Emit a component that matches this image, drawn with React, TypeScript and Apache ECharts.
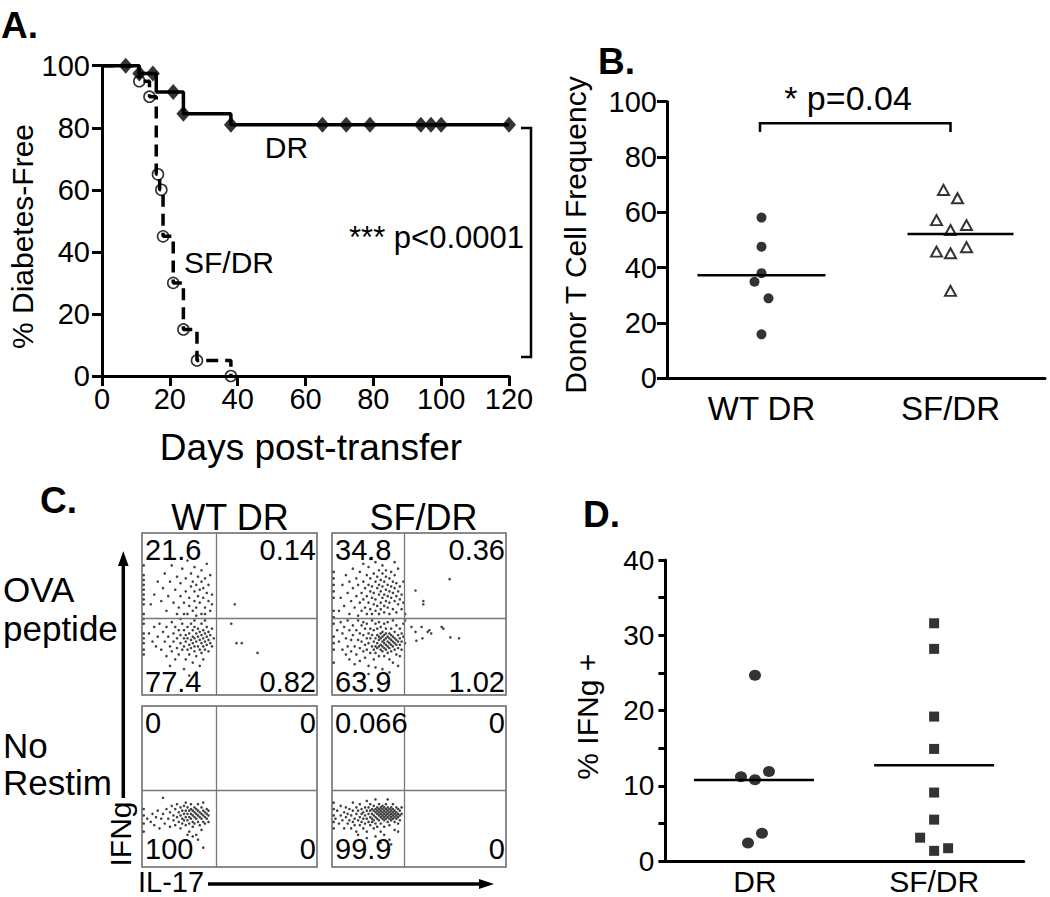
import React, { useEffect, useRef } from 'react';
import * as echarts from 'echarts';

const FONT = '"Liberation Sans", Arial, Helvetica, sans-serif';

// ---------- Panel A: Kaplan-Meier ----------
const drSteps = [[0, 100], [11, 97.5], [16, 91.5], [24, 84.5], [38, 81], [120, 81]];
const drMarks = [[7, 100], [11, 97.5], [15, 97.5], [21, 91.5], [24, 84.5], [38, 81], [65, 81], [72, 81], [79, 81], [94, 81], [97, 81], [100, 81], [120, 81]];
const sfSteps = [[0, 100], [11, 95], [14, 90], [16, 65], [17, 60], [18, 45], [21, 30], [24, 15], [28, 5], [38, 0]];
const sfMarks = [[11, 95], [14, 90], [16.5, 65], [17.5, 60], [18, 45], [21, 30], [24, 15], [28, 5], [38, 0]];

// ---------- Panel B ----------
const bCats = ['WT DR', 'SF/DR'];
const bWT = [58.1, 47.6, 38.0, 34.9, 28.9, 15.9];
const bSF = [68.1, 65.1, 57.2, 53.6, 55.4, 45.8, 45.2, 47.4, 31.6];
const bWTJitterPx = [0, 0, 0, -7, 7, 0];
const bSFJitterPx = [-7, 7, -14, 0, 16, -14, 0, 16, 0];

// ---------- Panel D ----------
const dCats = ['DR', 'SF/DR'];
const dDR = [24.7, 11.2, 10.8, 11.9, 3.7, 2.4];
const dSF = [31.6, 28.2, 19.2, 14.9, 9.1, 5.5, 3.1, 1.35, 1.7];
const dDRJitterPx = [0, -14, 0, 14, 7, -7];
const dSFJitterPx = [0, 0, 0, 0, 0, 0, -14, 0, 14];

// ---------- Panel C: flow plots (x = IL-17, y = IFNg, 0-100 within box) ----------
const quadWtOva = ['21.6', '0.14', '77.4', '0.82'];
const quadSfOva = ['34.8', '0.36', '63.9', '1.02'];
const quadWtNo = ['0', '0', '100', '0'];
const quadSfNo = ['0.066', '0', '99.9', '0'];
const gates = [[42.5, 47.5], [41.7, 47.5], [42.6, 47.8], [41.7, 47.8]];

const flowWtOva = [
  [5,56],[7,62],[9,70],[11,58],[12,66],[13,75],[14,52],[15,61],[16,70],[17,80],[18,57],[19,65],[20,73],[21,54],[22,61],[22,69],[23,78],[24,50],[24,57],[25,64],[25,72],[26,83],[27,55],[27,60],[28,67],[28,75],[29,52],[29,70],[30,58],[30,64],[30,79],[31,54],[31,68],[32,61],[32,73],[32,86],[33,57],[33,65],[34,50],[34,70],[34,77],[35,60],[35,66],[36,54],[36,72],[37,63],[37,81],[38,58],[38,68],[39,52],[39,74],[40,62],[36,50],[26,50],[20,50],[31,49],[40,56],
  [1,25],[1,32],[1,38],[1,44],[1,50],[1,56],[1,62],[1,68],[1,74],[1,80],[1,28],[1,35],[1,47],[1,59],[1,65],[1,71],
  [4,38],[6,33],[7,42],[8,30],[9,36],[10,44],[11,28],[12,39],[13,33],[14,24],[14,42],[15,36],[16,30],[17,45],[17,27],[18,38],[18,33],[19,22],[19,42],[20,35],[20,29],[21,40],[21,25],[22,37],[22,32],[23,44],[23,28],[24,35],[24,30],[24,40],[25,22],[25,33],[25,37],[26,28],[26,42],[26,35],[27,31],[27,38],[27,25],[28,34],[28,44],[28,29],[29,36],[29,32],[29,40],[29,20],[30,30],[30,35],[30,27],[30,42],[31,33],[31,38],[31,24],[32,30],[32,36],[32,41],[33,34],[33,28],[33,39],[33,18],[34,32],[34,37],[34,26],[34,44],[35,35],[35,30],[35,40],[35,22],[36,33],[36,38],[36,28],[37,36],[37,31],[37,42],[38,34],[38,27],[38,39],[39,32],[39,37],[40,30],[40,41],[41,35],[36,46],[30,46],[22,47],[16,18],[24,16],[31,14],[27,12],
  [53,56],[51,44],[54,32],[57,32],[66,26]
];

const flowSfOva = [
  [4,52],[5,60],[6,68],[7,55],[8,74],[9,63],[10,50],[10,70],[11,58],[12,66],[12,78],[13,54],[14,61],[14,72],[15,49],[15,68],[16,57],[16,76],[17,63],[17,52],[18,70],[18,59],[18,81],[19,66],[19,54],[20,61],[20,74],[20,50],[21,68],[21,57],[21,79],[22,64],[22,53],[22,72],[23,60],[23,67],[23,50],[24,75],[24,56],[24,63],[25,70],[25,52],[25,82],[25,59],[26,66],[26,73],[26,55],[27,62],[27,77],[27,50],[27,68],[28,57],[28,64],[28,71],[28,53],[29,60],[29,75],[29,67],[29,80],[30,55],[30,62],[30,70],[30,51],[31,65],[31,73],[31,58],[31,77],[32,54],[32,61],[32,68],[33,72],[33,57],[33,64],[33,50],[34,60],[34,67],[34,76],[35,53],[35,63],[35,70],[36,58],[36,66],[36,74],[37,51],[37,61],[37,69],[38,56],[38,64],[38,78],[39,59],[39,67],[40,53],[40,62],[41,57],[41,70],[36,82],[31,84],[22,84],[42,50],
  [1,20],[1,28],[1,36],[1,44],[1,52],[1,60],[1,68],[1,76],[1,32],[1,48],[1,64],[1,72],
  [3,40],[4,33],[5,45],[6,28],[6,38],[7,42],[8,25],[8,35],[9,30],[9,46],[10,40],[10,22],[11,34],[11,27],[12,43],[12,37],[13,30],[13,19],[14,40],[14,25],[15,34],[15,46],[16,29],[16,38],[16,21],[17,43],[17,33],[18,27],[18,37],[18,45],[19,31],[19,23],[19,41],[20,35],[20,28],[20,44],[21,32],[21,38],[21,18],[22,26],[22,41],[22,35],[23,30],[23,46],[23,37],[24,28],[24,33],[24,40],[24,22],[25,35],[25,30],[25,44],[25,26],[26,32],[26,37],[26,29],[26,41],[27,34],[27,30],[27,36],[27,24],[27,45],[28,31],[28,35],[28,28],[28,38],[28,42],[29,33],[29,30],[29,36],[29,27],[29,39],[30,32],[30,34],[30,29],[30,37],[30,24],[30,44],[31,31],[31,35],[31,28],[31,38],[31,41],[32,33],[32,30],[32,36],[32,26],[32,45],[33,32],[33,35],[33,29],[33,38],[33,22],[34,31],[34,34],[34,37],[34,41],[34,27],[35,33],[35,30],[35,36],[35,46],[35,20],[36,32],[36,35],[36,28],[36,39],[37,34],[37,31],[37,43],[37,25],[38,33],[38,37],[38,29],[39,35],[39,31],[39,41],[39,24],[40,33],[40,38],[40,28],[41,36],[41,44],[42,32],[29,16],[33,14],[25,17],[38,18],[21,13],[42,46],
  [67.6,71.5],[48,64.5],[52.5,58],[52.5,56],[45.7,42],[51.5,42],[55,39],[57,38],[56,40],[63,42],[64,41],[48,39],[52,35],[48.5,33.5],[68,35.6],[73,35]
];

const flowWtNo = [
  [3,30],[5,28],[6,33],[7,26],[8,31],[9,35],[10,24],[11,30],[12,43],[12,33],[13,27],[14,36],[15,30],[16,25],[16,34],[17,38],[18,29],[18,32],[19,26],[19,36],[20,31],[20,39],[21,28],[21,34],[22,32],[22,24],[22,37],[23,30],[23,35],[23,27],[24,33],[24,38],[24,29],[25,31],[25,35],[25,26],[25,40],[26,33],[26,29],[26,37],[27,31],[27,35],[27,27],[27,22],[28,33],[28,30],[28,36],[28,39],[29,32],[29,28],[29,35],[29,25],[30,31],[30,34],[30,37],[30,27],[31,33],[31,30],[31,36],[31,20],[32,32],[32,35],[32,28],[32,39],[33,31],[33,34],[33,26],[34,33],[34,30],[34,37],[34,23],[35,32],[35,35],[35,28],[35,40],[36,31],[36,34],[36,27],[37,33],[37,30],[37,36],[38,32],[38,28],[38,35],[32,17],[35,12],[29,19],[26,20],
  [1,22],[1,27],[1,32],[1,36]
];

const flowSfNo = [
  [2,30],[3,35],[4,27],[5,32],[5,38],[6,29],[7,34],[7,24],[8,31],[8,37],[9,27],[9,33],[10,29],[10,36],[11,24],[11,32],[12,28],[12,35],[12,40],[13,30],[13,26],[14,33],[14,37],[14,22],[15,29],[15,35],[16,31],[16,26],[16,39],[17,33],[17,28],[17,36],[18,30],[18,24],[18,34],[19,32],[19,37],[19,27],[20,30],[20,35],[20,41],[20,22],[21,33],[21,28],[21,37],[22,31],[22,35],[22,26],[22,39],[23,33],[23,30],[23,36],[23,28],[24,32],[24,35],[24,29],[24,38],[24,24],[25,31],[25,34],[25,36],[25,27],[25,42],[26,33],[26,30],[26,35],[26,37],[26,25],[27,32],[27,34],[27,29],[27,36],[27,39],[28,31],[28,33],[28,35],[28,37],[28,27],[28,22],[29,32],[29,34],[29,30],[29,36],[29,38],[30,31],[30,33],[30,35],[30,29],[30,37],[30,25],[31,32],[31,34],[31,36],[31,30],[31,39],[32,31],[32,33],[32,35],[32,28],[32,37],[32,42],[33,32],[33,34],[33,30],[33,36],[33,26],[34,31],[34,33],[34,35],[34,37],[34,29],[35,32],[35,34],[35,30],[35,36],[35,39],[36,31],[36,33],[36,35],[36,28],[37,32],[37,34],[37,30],[37,37],[38,33],[38,31],[38,36],[38,27],[39,32],[39,35],[39,29],[40,33],[40,37],[36,23],[30,20],[25,19],[33,17],[28,15],[20,18],[38,22],[15,20],[34,14],
  [1,24],[1,28],[1,32],[1,36],[1,40]
];

const mean = (a: number[]) => a.reduce((s, v) => s + v, 0) / a.length;

export default function App() {
  const ref = useRef<HTMLDivElement>(null);
  useEffect(() => {
    if (!ref.current) return;
    const chart = echarts.init(ref.current, undefined, { renderer: 'svg' });

    const axisLineStyle = { color: '#000', width: 3 };
    const flowBoxes = [
      { left: 142, top: 533, width: 175, height: 162 },
      { left: 332, top: 533, width: 174, height: 162 },
      { left: 142, top: 706, width: 175, height: 161 },
      { left: 332, top: 706, width: 174, height: 161 },
    ];
    const flowData = [flowWtOva, flowSfOva, flowWtNo, flowSfNo];
    const quads = [quadWtOva, quadSfOva, quadWtNo, quadSfNo];

    const grids: any[] = [
      { left: 102, top: 65.7, width: 407, height: 310.3 },
      { left: 667, top: 101.7, width: 378, height: 276.6 },
      { left: 665.4, top: 560.1, width: 358.3, height: 300.9 },
      ...flowBoxes.map((b) => ({ ...b, show: true, borderColor: '#666', borderWidth: 1.5, backgroundColor: 'transparent' })),
    ];

    const xAxes: any[] = [
      {
        gridIndex: 0, type: 'value', min: 0, max: 120, interval: 20,
        axisLine: { onZero: false, lineStyle: axisLineStyle },
        axisTick: { length: 10, lineStyle: { color: '#000', width: 3 } },
        axisLabel: { color: '#000', fontSize: 29, fontFamily: FONT, margin: 8 },
        splitLine: { show: false },
      },
      {
        gridIndex: 1, type: 'category', data: bCats,
        axisLine: { onZero: false, lineStyle: axisLineStyle },
        axisTick: { alignWithLabel: true, length: 10, lineStyle: { color: '#000', width: 3 } },
        axisLabel: { color: '#000', fontSize: 33, fontFamily: FONT, margin: 14 },
      },
      {
        gridIndex: 2, type: 'category', data: dCats,
        axisLine: { onZero: false, lineStyle: axisLineStyle },
        axisTick: { alignWithLabel: true, length: 9, lineStyle: { color: '#000', width: 3 } },
        axisLabel: { color: '#000', fontSize: 30, fontFamily: FONT, margin: 5 },
      },
      ...flowBoxes.map((_, i) => ({ gridIndex: 3 + i, type: 'value', min: 0, max: 100, show: false })),
    ];
    const yAxes: any[] = [
      {
        gridIndex: 0, type: 'value', min: 0, max: 100, interval: 20,
        axisLine: { show: true, lineStyle: axisLineStyle },
        axisTick: { show: true, length: 10, lineStyle: { color: '#000', width: 3 } },
        axisLabel: { color: '#000', fontSize: 29, fontFamily: FONT, margin: 12 },
        splitLine: { show: false },
      },
      {
        gridIndex: 1, type: 'value', min: 0, max: 100, interval: 20,
        axisLine: { show: true, lineStyle: axisLineStyle },
        axisTick: { show: true, length: 10, lineStyle: { color: '#000', width: 3 } },
        axisLabel: { color: '#000', fontSize: 29, fontFamily: FONT, margin: 10 },
        splitLine: { show: false },
      },
      {
        gridIndex: 2, type: 'value', min: 0, max: 40, interval: 5,
        axisLine: { show: true, lineStyle: axisLineStyle },
        axisTick: { show: true, length: 7, lineStyle: { color: '#000', width: 3 } },
        axisLabel: { color: '#000', fontSize: 28, fontFamily: FONT, margin: 11, formatter: (v: number) => (v % 10 === 0 ? String(v) : '') },
        splitLine: { show: false },
      },
      ...flowBoxes.map((_, i) => ({ gridIndex: 3 + i, type: 'value', min: 0, max: 100, show: false })),
    ];

    const meanHalf: Record<string, [number, number][]> = {
      b: [[64, 64], [43, 63]],
      d: [[61, 59], [60, 60]],
    };
    const meanSeries = (axisIdx: number, key: string, data: number[][]) => ({
      type: 'custom', xAxisIndex: axisIdx, yAxisIndex: axisIdx, z: 5, silent: true,
      data,
      renderItem: (params: any, api: any) => {
        const c = api.coord([api.value(0), api.value(1)]);
        const h = meanHalf[key][params.dataIndex];
        return { type: 'line', shape: { x1: c[0] - h[0], y1: c[1], x2: c[0] + h[1], y2: c[1] }, style: { stroke: '#000', lineWidth: 2.5 } };
      },
    });

    const dotted = (cat: number, vals: number[], jit: number[]) =>
      vals.map((v, i) => ({ value: [cat, v], symbolOffset: [jit[i], 0] }));

    const series: any[] = [
      // Panel A
      { type: 'line', xAxisIndex: 0, yAxisIndex: 0, data: drSteps, step: 'end', showSymbol: false, lineStyle: { color: '#000', width: 3.5 }, z: 3 },
      { type: 'line', xAxisIndex: 0, yAxisIndex: 0, data: sfSteps, step: 'end', showSymbol: false, lineStyle: { color: '#000', width: 3.5, type: [12, 7] }, z: 3 },
      { type: 'scatter', xAxisIndex: 0, yAxisIndex: 0, data: drMarks, symbol: 'diamond', symbolSize: [14, 16], itemStyle: { color: '#000' }, z: 4 },
      { type: 'scatter', xAxisIndex: 0, yAxisIndex: 0, data: sfMarks, symbol: 'circle', symbolSize: 11, itemStyle: { color: 'rgba(255,255,255,0)', borderColor: '#000', borderWidth: 1.6 }, z: 4 },
      // Panel B
      { type: 'scatter', xAxisIndex: 1, yAxisIndex: 1, data: dotted(0, bWT, bWTJitterPx), symbol: 'circle', symbolSize: 10, itemStyle: { color: '#000' } },
      { type: 'scatter', xAxisIndex: 1, yAxisIndex: 1, data: dotted(1, bSF, bSFJitterPx), symbol: 'triangle', symbolSize: [11, 10], itemStyle: { color: '#fff', borderColor: '#000', borderWidth: 2 } },
      meanSeries(1, 'b', [[0, mean(bWT)], [1, mean(bSF)]]),
      // Panel D
      { type: 'scatter', xAxisIndex: 2, yAxisIndex: 2, data: dotted(0, dDR, dDRJitterPx), symbol: 'circle', symbolSize: [12, 11], itemStyle: { color: '#000' } },
      { type: 'scatter', xAxisIndex: 2, yAxisIndex: 2, data: dotted(1, dSF, dSFJitterPx), symbol: 'rect', symbolSize: 10, itemStyle: { color: '#000' } },
      meanSeries(2, 'd', [[0, mean(dDR)], [1, mean(dSF)]]),
      // Panel C flow plots
      ...flowData.map((d, i) => ({
        type: 'scatter', xAxisIndex: 3 + i, yAxisIndex: 3 + i, data: d, symbol: 'circle', symbolSize: 2.6,
        itemStyle: { color: '#111' }, silent: true,
        markLine: {
          silent: true, symbol: 'none', label: { show: false },
          lineStyle: { color: '#777', width: 1.3, type: 'solid' },
          data: [{ xAxis: gates[i][0] }, { yAxis: gates[i][1] }],
        },
      })),
    ];

    const txt = (text: string, x: number, y: number, size: number, opts: any = {}) => {
      const style: any = {
        text, fill: '#000', font: `${opts.bold ? 'bold ' : ''}${size}px ${FONT}`,
        align: opts.align || 'center', verticalAlign: opts.va || 'middle',
      };
      if (opts.lh) style.lineHeight = opts.lh;
      return { type: 'text', x, y, rotation: opts.rotation || 0, z: 10, style };
    };

    const quadTexts: any[] = [];
    flowBoxes.forEach((b, i) => {
      const q = quads[i];
      const r = b.left + b.width;
      const btm = b.top + b.height;
      const lowLift = i < 2 ? 2 : 6.7;
      quadTexts.push(txt(q[0], b.left + 3, b.top + 2, 29, { align: 'left', va: 'top' }));
      quadTexts.push(txt(q[1], r - 1, b.top + 2, 29, { align: 'right', va: 'top' }));
      quadTexts.push(txt(q[2], b.left + 3, btm - lowLift, 29, { align: 'left', va: 'bottom', lh: 22 }));
      quadTexts.push(txt(q[3], r - 1, btm - lowLift, 29, { align: 'right', va: 'bottom', lh: 22 }));
    });

    const graphic: any[] = [
      // panel letters
      txt('A.', 1, 25, 37, { bold: true, align: 'left' }),
      txt('B.', 598, 61, 37, { bold: true, align: 'left' }),
      txt('C.', 40, 500, 37, { bold: true, align: 'left' }),
      txt('D.', 583, 514, 37, { bold: true, align: 'left' }),
      // Panel A
      txt('% Diabetes-Free', 22, 236.5, 30, { rotation: Math.PI / 2 }),
      txt('Days post-transfer', 311, 447, 37),
      txt('DR', 286.5, 147, 30),
      txt('SF/DR', 229, 262.5, 30),
      txt('*** p<0.0001', 436.5, 237, 31),
      { type: 'polyline', z: 10, shape: { points: [[521, 128], [531, 128], [531, 357], [521, 357]] }, style: { stroke: '#000', lineWidth: 2.5, fill: null } },
      // Panel B
      txt('Donor T Cell Frequency', 575, 235, 30, { rotation: Math.PI / 2 }),
      txt('* p=0.04', 848, 98, 34),
      { type: 'polyline', z: 10, shape: { points: [[760, 132], [760, 123.3], [950.5, 123.3], [950.5, 132]] }, style: { stroke: '#000', lineWidth: 2.5, fill: null } },
      // Panel D
      txt('% IFNg +', 587.6, 716.7, 30, { rotation: Math.PI / 2 }),
      // Panel C
      txt('WT DR', 230, 517.5, 36),
      txt('SF/DR', 423.5, 517.5, 36),
      txt('OVA', 3, 589.5, 35, { align: 'left' }),
      txt('peptide', 3, 628, 35, { align: 'left' }),
      txt('No', 3, 745, 35, { align: 'left' }),
      txt('Restim', 3, 782.5, 35, { align: 'left' }),
      txt('IFNg', 120, 834, 30, { rotation: Math.PI / 2 }),
      txt('IL-17', 138, 881.5, 29, { align: 'left' }),
      { type: 'line', z: 10, shape: { x1: 123.3, y1: 798, x2: 123.3, y2: 562 }, style: { stroke: '#000', lineWidth: 3.5 } },
      { type: 'polygon', z: 10, shape: { points: [[123.3, 551], [118, 566], [128.6, 566]] }, style: { fill: '#000' } },
      { type: 'line', z: 10, shape: { x1: 208, y1: 884, x2: 482, y2: 884 }, style: { stroke: '#000', lineWidth: 3.5 } },
      { type: 'polygon', z: 10, shape: { points: [[494, 884], [479, 879], [479, 889]] }, style: { fill: '#000' } },
      ...quadTexts,
    ];

    chart.setOption({
      animation: false,
      backgroundColor: '#fff',
      textStyle: { fontFamily: FONT },
      grid: grids,
      xAxis: xAxes,
      yAxis: yAxes,
      series,
      graphic,
    });
    return () => chart.dispose();
  }, []);
  return <div ref={ref} style={{ position: 'absolute', left: 0, top: 0, width: 1050, height: 897 }} />;
}
